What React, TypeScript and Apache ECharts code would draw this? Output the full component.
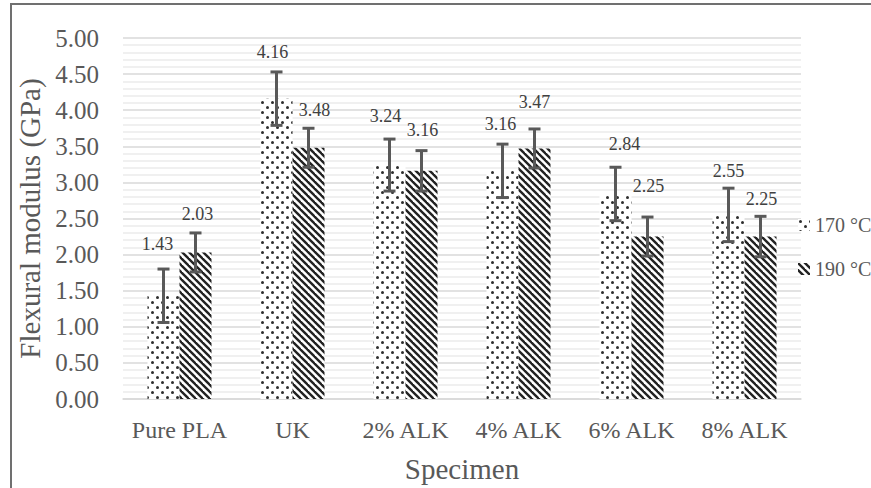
import React, { useEffect, useRef } from "react";
import * as echarts from "echarts";

const categories = ["Pure PLA", "UK", "2% ALK", "4% ALK", "6% ALK", "8% ALK"];
const seriesNames = ["170 °C", "190 °C"];
const values170 = [1.43, 4.16, 3.24, 3.16, 2.84, 2.55];
const values190 = [2.03, 3.48, 3.16, 3.47, 2.25, 2.25];
const err170 = [0.37, 0.37, 0.36, 0.37, 0.37, 0.37];
const err190 = [0.27, 0.27, 0.28, 0.27, 0.27, 0.28];
const yTicks = { min: 0, max: 5, interval: 0.5 };

// label nudges (styling only, px)
const nudge170 = [[-6, -43], [-4, -38], [-4, -40], [-2, -38], [9, -41], [0, -35]];
const nudge190 = [[2, -29], [6, -29], [1, -32], [0, -37], [1, -42], [1, -29]];

const FONT = "'Liberation Serif', 'Times New Roman', serif";
const TXT = "#595959";
const BAR_W = 32;

function makeDots(): HTMLCanvasElement {
  const c = document.createElement("canvas");
  c.width = 10;
  c.height = 10;
  const g = c.getContext("2d")!;
  g.fillStyle = "#ffffff";
  g.fillRect(0, 0, 10, 10);
  g.fillStyle = "#2e2e2e";
  for (const [x, y] of [[2.5, 2.5], [7.5, 7.5]]) {
    g.beginPath();
    g.arc(x, y, 1.5, 0, Math.PI * 2);
    g.fill();
  }
  return c;
}

function makeHatch(): HTMLCanvasElement {
  const s = 7;
  const c = document.createElement("canvas");
  c.width = s;
  c.height = s;
  const g = c.getContext("2d")!;
  g.fillStyle = "#ffffff";
  g.fillRect(0, 0, s, s);
  g.strokeStyle = "#222222";
  g.lineWidth = 2.4;
  for (const k of [-s, 0, s]) {
    g.beginPath();
    g.moveTo(k - 1, -1);
    g.lineTo(k + s + 1, s + 1);
    g.stroke();
  }
  return c;
}

export default function App() {
  const ref = useRef<HTMLDivElement>(null);
  useEffect(() => {
    if (!ref.current) return;
    const chart = echarts.init(ref.current, undefined, { renderer: "svg" });
    const dots = { image: makeDots(), repeat: "repeat" };
    const hatch = { image: makeHatch(), repeat: "repeat" };

    const barData = (vals: number[], nudges: number[][]) =>
      vals.map((v, i) => ({
        value: v,
        label: { offset: nudges[i] },
      }));

    const errData = (vals: number[], errs: number[]) =>
      vals.map((v, i) => [i, v, errs[i]]);

    const errRender = (side: number) => (params: any, api: any) => {
      const i = api.value(0);
      const v = api.value(1);
      const e = api.value(2);
      const top = api.coord([i, v + e]);
      const bot = api.coord([i, v - e]);
      const x = top[0] + side * (BAR_W / 2);
      const cap = 6;
      const st = { stroke: "#595959", lineWidth: 3 };
      return {
        type: "group",
        children: [
          { type: "line", shape: { x1: x, y1: top[1], x2: x, y2: bot[1] }, style: st },
          { type: "line", shape: { x1: x - cap, y1: top[1], x2: x + cap, y2: top[1] }, style: st },
          { type: "line", shape: { x1: x - cap, y1: bot[1], x2: x + cap, y2: bot[1] }, style: st },
        ],
      };
    };

    const labelStyle = {
      show: true,
      position: "top",
      distance: 0,
      formatter: (p: any) => Number(p.value).toFixed(2),
      fontFamily: FONT,
      fontSize: 18,
      lineHeight: 18,
      color: "#404040",
    };

    chart.setOption({
      animation: false,
      backgroundColor: "#ffffff",
      textStyle: { fontFamily: FONT },
      graphic: [
        {
          type: "rect",
          shape: { x: 11, y: 4, width: 920, height: 560 },
          style: { fill: "none", stroke: "#707070", lineWidth: 2 },
          silent: true,
          z: 100,
        },
      ],
      grid: { left: 123, right: 70, top: 38, bottom: 78.5 },
      legend: {
        data: seriesNames,
        orient: "vertical",
        left: 793,
        top: 210,
        icon: "rect",
        itemWidth: 12,
        itemHeight: 12,
        itemGap: 24,
        textStyle: { fontFamily: FONT, fontSize: 20, lineHeight: 20, color: TXT },
      },
      xAxis: {
        type: "category",
        data: categories,
        name: "Specimen",
        nameLocation: "middle",
        nameGap: 55,
        nameTextStyle: { fontFamily: FONT, fontSize: 29, lineHeight: 29, color: TXT },
        axisLine: { lineStyle: { color: "#d9d9d9", width: 1.5 } },
        axisTick: { show: false },
        axisLabel: {
          interval: 0,
          fontFamily: FONT,
          fontSize: 24,
          lineHeight: 24,
          color: TXT,
          margin: 19,
        },
      },
      yAxis: {
        type: "value",
        min: yTicks.min,
        max: yTicks.max,
        interval: yTicks.interval,
        name: "Flexural modulus (GPa)",
        nameLocation: "middle",
        nameGap: 75,
        nameTextStyle: { fontFamily: FONT, fontSize: 29, lineHeight: 29, color: TXT },
        axisLine: { show: false },
        axisTick: { show: false },
        axisLabel: {
          fontFamily: FONT,
          fontSize: 25,
          color: TXT,
          margin: 24,
          formatter: (v: number) => v.toFixed(2),
        },
        splitLine: { lineStyle: { color: "#d9d9d9", width: 1.5 } },
        minorTick: { show: false, splitNumber: 5 },
        minorSplitLine: { show: true, lineStyle: { color: "#ebebeb", width: 1.5 } },
      },
      series: [
        {
          name: seriesNames[0],
          type: "bar",
          barWidth: BAR_W,
          barGap: "0%",
          data: barData(values170, nudge170),
          itemStyle: { color: dots },
          label: labelStyle,
          z: 2,
        },
        {
          name: seriesNames[1],
          type: "bar",
          barWidth: BAR_W,
          barGap: "0%",
          data: barData(values190, nudge190),
          itemStyle: { color: hatch },
          label: labelStyle,
          z: 2,
        },
        {
          name: "err170",
          type: "custom",
          renderItem: errRender(-1),
          data: errData(values170, err170),
          encode: { x: 0, y: 1 },
          z: 5,
          silent: true,
        },
        {
          name: "err190",
          type: "custom",
          renderItem: errRender(1),
          data: errData(values190, err190),
          encode: { x: 0, y: 1 },
          z: 5,
          silent: true,
        },
      ],
    });
    return () => chart.dispose();
  }, []);

  return (
    <div
      ref={ref}
      style={{ position: "absolute", left: 0, top: 0, width: 871, height: 488, background: "#fff" }}
    />
  );
}
